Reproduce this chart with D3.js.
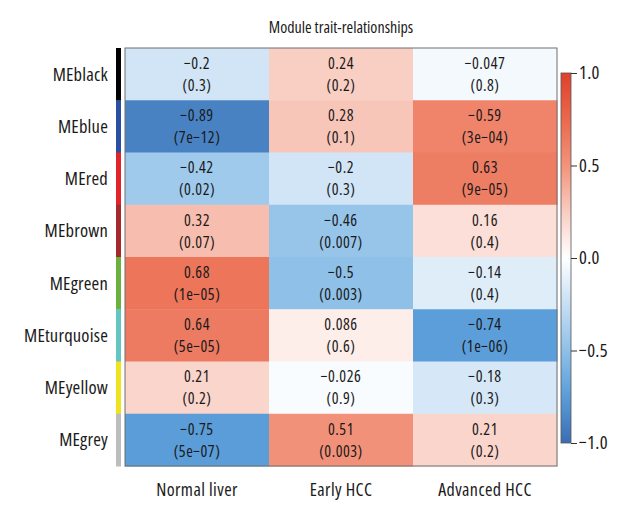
<!DOCTYPE html>
<html><head><meta charset="utf-8">
<script src="https://cdn.jsdelivr.net/npm/d3@7"></script>
<style>
html,body{margin:0;padding:0;background:#fff;}
text{font-family:"Open Sans",sans-serif;font-stretch:75%;fill:#1a1a1a;}
</style></head>
<body><svg id="c" width="640" height="520"></svg>
<script>
const modules = ["MEblack","MEblue","MEred","MEbrown","MEgreen","MEturquoise","MEyellow","MEgrey"];
const moduleColors = ["#000000","#2b4fa0","#e1232a","#a3292d","#6ab23d","#64c6c2","#ede31e","#bdbdbd"];
const traits = ["Normal liver","Early HCC","Advanced HCC"];
// cell colour values (as shown by fill)
const corNormal   = [-0.2, -0.89, -0.42, 0.32, 0.68, 0.64, 0.21, -0.75];
const corEarly    = [0.24, 0.28, -0.2, -0.46, -0.5, 0.086, -0.026, 0.51];
const corAdvanced = [-0.047, 0.59, 0.63, 0.16, -0.14, -0.74, -0.18, 0.21];
// printed correlation labels
const corTextNormal   = ["\u22120.2","\u22120.89","\u22120.42","0.32","0.68","0.64","0.21","\u22120.75"];
const corTextEarly    = ["0.24","0.28","\u22120.2","\u22120.46","\u22120.5","0.086","\u22120.026","0.51"];
const corTextAdvanced = ["\u22120.047","\u22120.59","0.63","0.16","\u22120.14","\u22120.74","\u22120.18","0.21"];
const pNormal   = ["0.3","7e\u221212","0.02","0.07","1e\u221205","5e\u221205","0.2","5e\u221207"];
const pEarly    = ["0.2","0.1","0.3","0.007","0.003","0.6","0.9","0.003"];
const pAdvanced = ["0.8","3e\u221204","9e\u221205","0.4","0.4","1e\u221206","0.3","0.2"];
const legendTicks = [-1, -0.5, 0, 0.5, 1];

const corCols = [corNormal, corEarly, corAdvanced];
const corTexts = [corTextNormal, corTextEarly, corTextAdvanced];
const pCols = [pNormal, pEarly, pAdvanced];

const svg = d3.select("#c");
const L = 125, R = 557, T = 48, B = 466;

const x = d3.scaleBand().domain(traits).range([L, R]);
const y = d3.scaleBand().domain(modules).range([T, B]);
const color = d3.scaleLinear()
  .domain([-1, -0.75, -0.5, -0.25, 0, 0.25, 0.5, 0.75, 1])
  .range(["#3a6db3","#5a9dd8","#8ec0e8","#c6def4","#ffffff","#f9cdc2","#f2937b","#e9694d","#e0402a"])
  .clamp(true);

const cells = [];
traits.forEach((t, j) => modules.forEach((m, i) => cells.push({t, m, v: corCols[j][i], lab: corTexts[j][i], p: pCols[j][i]})));

svg.append("g").selectAll("rect").data(cells).join("rect")
  .attr("x", d => x(d.t)).attr("y", d => y(d.m))
  .attr("width", x.bandwidth() + 0.5).attr("height", y.bandwidth() + 0.5)
  .attr("fill", d => color(d.v));

svg.append("rect").attr("x", L).attr("y", T).attr("width", R - L).attr("height", B - T)
  .attr("fill", "none").attr("stroke", "#6e6e6e").attr("stroke-width", 1);

// each cell label: correlation on top, p-value below
const tg = svg.append("g").attr("text-anchor", "middle")
  .style("font-size", "16px").style("letter-spacing", "0.5px");
tg.selectAll("text.c").data(cells).join("text").attr("class", "c")
  .attr("x", d => x(d.t) + x.bandwidth() / 2)
  .attr("y", d => y(d.m) + y.bandwidth() / 2 - 11)
  .attr("dy", "0.36em").text(d => d.lab);
tg.selectAll("text.p").data(cells).join("text").attr("class", "p")
  .attr("x", d => x(d.t) + x.bandwidth() / 2)
  .attr("y", d => y(d.m) + y.bandwidth() / 2 + 11)
  .attr("dy", "0.36em").text(d => "(" + d.p + ")");

// module colour strips
svg.append("g").selectAll("rect").data(modules).join("rect")
  .attr("x", 116).attr("y", d => y(d)).attr("width", 5).attr("height", y.bandwidth() + 0.5)
  .attr("fill", (d, i) => moduleColors[i]);

// row labels
svg.append("g").selectAll("text").data(modules).join("text")
  .attr("x", 108).attr("y", d => y(d) + y.bandwidth() / 2).attr("dy", "0.35em")
  .attr("text-anchor", "end").style("font-size", "18.5px").style("letter-spacing", "0.2px").text(d => d);

// column labels
svg.append("g").selectAll("text").data(traits).join("text")
  .attr("x", d => x(d) + x.bandwidth() / 2).attr("y", 490).attr("dy", "0.35em")
  .attr("text-anchor", "middle").style("font-size", "18px").style("letter-spacing", "0.4px").text(d => d);

// title
svg.append("text").attr("x", (L + R) / 2).attr("y", 27).attr("dy", "0.35em")
  .attr("text-anchor", "middle").style("font-size", "16px")
  .text("Module trait-relationships");

// colour legend
const ly = d3.scaleLinear().domain([-1, 1]).range([443, 73]);
const defs = svg.append("defs");
const grad = defs.append("linearGradient").attr("id", "lg").attr("x1", 0).attr("y1", 1).attr("x2", 0).attr("y2", 0);
d3.range(0, 1.0001, 0.05).forEach(f => grad.append("stop").attr("offset", f).attr("stop-color", color(-1 + 2 * f)));
svg.append("rect").attr("x", 561).attr("y", ly(1)).attr("width", 10).attr("height", ly(-1) - ly(1))
  .attr("fill", "url(#lg)").attr("stroke", "#555").attr("stroke-width", 0.8);
const ax = svg.append("g").attr("transform", "translate(571,0)")
  .call(d3.axisRight(ly).tickValues(legendTicks).tickSize(6).tickPadding(2)
    .tickFormat(d => d3.format(".1f")(d).replace("-", "\u2212")));
ax.select(".domain").remove();
ax.selectAll("line").attr("stroke", "#333");
ax.selectAll("text").style("font-size", "18.5px").attr("fill", "#1a1a1a")
  .style("font-family", "'Open Sans',sans-serif").style("font-stretch", "75%").style("letter-spacing", "0.3px");
</script></body></html>
